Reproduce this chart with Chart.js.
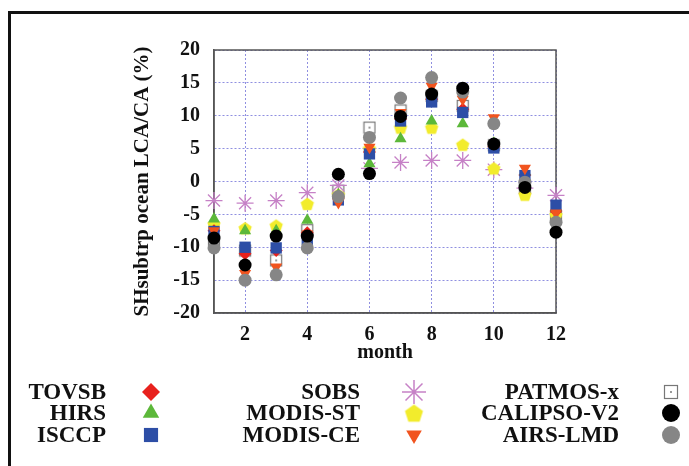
<!DOCTYPE html>
<html>
<head>
<meta charset="utf-8">
<script src="https://cdn.jsdelivr.net/npm/chart.js@4/dist/chart.umd.min.js"></script>
<style>
  html, body { margin: 0; padding: 0; background: #fff; }
  #wrap { position: relative; width: 689px; height: 466px; }
</style>
</head>
<body>
<div id="wrap"><canvas id="chart" width="689" height="466"></canvas></div>
<script>
// months on the x axis and the ticks that get labels
var months = [1, 2, 3, 4, 5, 6, 7, 8, 9, 10, 11, 12];
var xTicks = [2, 4, 6, 8, 10, 12];

// series values (%)
var tovsb    = [-7.5, -11.0, -10.5, -7.8, -2.5, 4.5, 9.5, 12.5, 11.0, 5.3, 1.0, -4.5];
var hirs     = [-5.7, -7.5, -7.5, -5.9, -2.0, 2.7, 6.5, 9.2, 8.8, 5.8, 1.5, -4.0];
var isccp    = [-7.6, -10.0, -10.1, -8.8, -2.8, 4.2, 9.2, 12.1, 10.5, 5.1, 0.9, -3.6];
var sobs     = [-2.9, -3.3, -2.9, -1.7, -0.6, 2.0, 2.9, 3.2, 3.2, 1.8, -1.0, -2.1];
var modisSt  = [-6.5, -7.1, -6.7, -3.4, -2.0, 5.0, 8.2, 8.2, 5.6, 2.0, -2.0, -5.1];
var modisCe  = [-7.5, -14.0, -13.0, -8.0, -3.2, 5.2, 10.5, 14.5, 12.5, 9.7, 2.0, -4.8];
var patmos   = [-9.0, -10.5, -12.0, -7.4, -1.4, 8.2, 10.8, 13.0, 11.5, 5.5, -1.0, -5.5];
var calipso  = [-8.6, -12.7, -8.3, -8.3, 1.1, 1.2, 9.9, 13.3, 14.2, 5.7, -0.9, -7.7];
var airsLmd  = [-10.1, -15.0, -14.2, -10.1, -2.3, 6.7, 12.7, 15.8, 13.6, 8.8, -0.1, -6.2];

var FONT = '"Liberation Serif", "Times New Roman", serif';

// little canvases for the marker shapes chart.js does not have
function pentagon(r, color) {
  var c = document.createElement('canvas');
  c.width = c.height = Math.ceil(r * 2 + 2);
  var g = c.getContext('2d');
  var cx = c.width / 2, cy = c.height / 2 + r * 0.1;
  g.beginPath();
  for (var i = 0; i < 5; i++) {
    var a = -Math.PI / 2 + i * 2 * Math.PI / 5;
    g.lineTo(cx + r * Math.cos(a), cy + r * Math.sin(a));
  }
  g.closePath();
  g.fillStyle = color;
  g.fill();
  return c;
}

function dotSquare(s) {
  var c = document.createElement('canvas');
  c.width = c.height = s + 2;
  var g = c.getContext('2d');
  g.fillStyle = '#fff';
  g.fillRect(1, 1, s, s);
  g.strokeStyle = '#777';
  g.lineWidth = 1.2;
  g.strokeRect(1.5, 1.5, s - 1, s - 1);
  g.fillStyle = '#999';
  g.fillRect(c.width / 2 - 1, c.height / 2 - 1, 2, 2);
  return c;
}

function pts(vals) {
  return vals.map(function(v, i) { return {x: months[i], y: v}; });
}

var series = [
  {label: 'TOVSB', data: tovsb, style: 'rectRot', color: '#e8211d', r: 6.5, lr: 9, order: 6},
  {label: 'HIRS', data: hirs, style: 'triangle', color: '#5cb83a', r: 7, lr: 9.5, order: 5},
  {label: 'ISCCP', data: isccp, style: 'rect', color: '#2d4ea6', r: 8, lr: 10, order: 4},
  {label: 'SOBS', data: sobs, style: 'star', color: '#c681c6', r: 8.5, lr: 12, order: 8, line: true},
  {label: 'MODIS-ST', data: modisSt, style: pentagon(7, '#f2ec2c'), legendStyle: pentagon(9.5, '#f2ec2c'), color: '#f2ec2c', r: 7, lr: 9, order: 7},
  {label: 'MODIS-CE', data: modisCe, style: 'triangle', rot: 180, color: '#f1541f', r: 7, lr: 9, order: 3},
  {label: 'PATMOS-x', data: patmos, style: dotSquare(12), legendStyle: dotSquare(14), color: '#777', r: 7, lr: 8, order: 9},
  {label: 'CALIPSO-V2', data: calipso, style: 'circle', color: '#000', r: 6.5, lr: 9, order: 0},
  {label: 'AIRS-LMD', data: airsLmd, style: 'circle', color: '#868686', r: 6.5, lr: 9, order: 1}
];

var datasets = series.map(function(s) {
  return {
    label: s.label,
    data: pts(s.data),
    showLine: false,
    pointStyle: s.style,
    pointRotation: s.rot || 0,
    pointRadius: s.r,
    pointHoverRadius: s.r,
    backgroundColor: s.color,
    borderColor: s.color,
    borderWidth: s.line ? 1.3 : 0,
    order: s.order,
    clip: false
  };
});

// outer frame + legend drawn by hand, three columns with label left of marker
var legendPlugin = {
  id: 'sideLegend',
  beforeDraw: function(chart) {
    var ctx = chart.ctx;
    ctx.save();
    ctx.fillStyle = '#fff';
    ctx.fillRect(0, 0, chart.width, chart.height);
    ctx.fillStyle = '#111';
    ctx.fillRect(8, 11, chart.width - 8, 3);
    ctx.fillRect(8, 11, 3, chart.height - 11);
    ctx.restore();
  },
  afterDraw: function(chart) {
    var ctx = chart.ctx;
    var textRight = [106, 360, 619];
    var markX = [151, 414, 671];
    var rowY = [392, 413, 435];
    ctx.save();
    ctx.font = 'bold 23px ' + FONT;
    ctx.textAlign = 'right';
    ctx.textBaseline = 'middle';
    series.forEach(function(s, i) {
      var col = Math.floor(i / 3), row = i % 3;
      ctx.fillStyle = '#111';
      ctx.fillText(s.label, textRight[col], rowY[row] + 1);
      ctx.fillStyle = s.color;
      ctx.strokeStyle = s.color;
      ctx.lineWidth = s.line ? 1.5 : 0;
      Chart.helpers.drawPoint(ctx, {
        pointStyle: s.legendStyle || s.style,
        rotation: s.rot || 0,
        radius: s.lr,
        borderWidth: s.line ? 1.5 : 0
      }, markX[col], rowY[row]);
    });
    ctx.restore();
  }
};

var ctx = document.getElementById('chart');
var chart = new Chart(ctx, {
  type: 'scatter',
  data: {datasets: datasets},
  options: {
    responsive: false,
    animation: false,
    events: [],
    layout: {padding: {left: 130, right: 133, top: 50, bottom: 101}},
    plugins: {legend: {display: false}, tooltip: {enabled: false}},
    scales: {
      x: {
        type: 'linear',
        min: 1,
        max: 12,
        afterBuildTicks: function(scale) {
          scale.ticks = xTicks.map(function(v) { return {value: v}; });
        },
        afterFit: function(scale) { scale.height = 52; },
        grid: {color: '#8f8fe0', lineWidth: 1, drawTicks: false},
        border: {display: true, color: '#555', width: 1.5, dash: [2, 2]},
        ticks: {color: '#111', padding: 10, font: {family: FONT, size: 20, weight: 'bold'}},
        title: {display: true, text: 'month', color: '#111', padding: 0,
                font: {family: FONT, size: 20, weight: 'bold'}}
      },
      y: {
        min: -20,
        max: 20,
        afterFit: function(scale) { scale.width = 84; },
        grid: {color: '#8f8fe0', lineWidth: 1, drawTicks: false},
        border: {display: true, color: '#555', width: 1.5, dash: [2, 2]},
        ticks: {stepSize: 5, color: '#111', padding: 14, font: {family: FONT, size: 20, weight: 'bold'}},
        title: {display: true, text: 'SHsubtrp ocean LCA/CA (%)', color: '#111', padding: 0,
                font: {family: FONT, size: 21, weight: 'bold'}}
      }
    }
  },
  plugins: [legendPlugin, {
    // solid frame of the plot box
    id: 'boxFrame',
    beforeDatasetsDraw: function(chart) {
      var a = chart.chartArea, c = chart.ctx;
      c.save();
      c.strokeStyle = '#555';
      c.lineWidth = 1.5;
      c.setLineDash([]);
      c.strokeRect(a.left, a.top, a.right - a.left, a.bottom - a.top);
      c.restore();
    }
  }]
});
</script>
</body>
</html>
